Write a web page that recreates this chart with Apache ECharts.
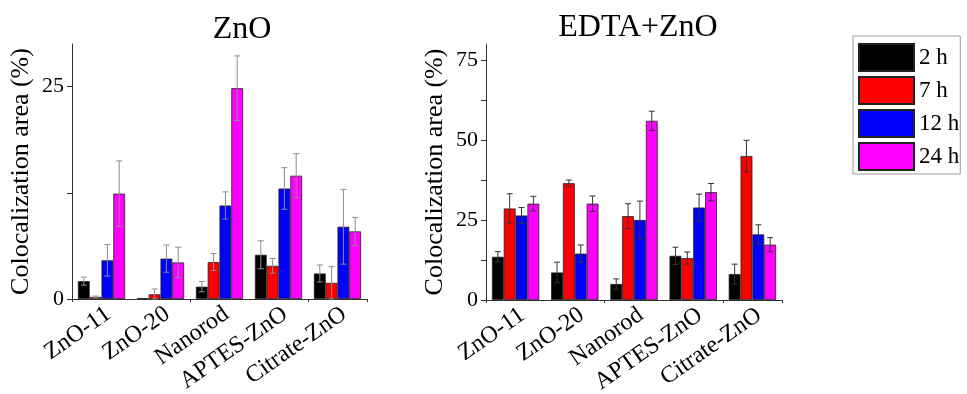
<!DOCTYPE html>
<html>
<head>
<meta charset="utf-8">
<script src="https://cdn.jsdelivr.net/npm/echarts@6.0.0/dist/echarts.min.js"></script>
<style>
html,body{margin:0;padding:0;background:#fff;}
#chart{width:967px;height:394px;}
</style>
</head>
<body>
<div id="chart"></div>
<script>
// ---- data ----
const categories = ['ZnO-11', 'ZnO-20', 'Nanorod', 'APTES-ZnO', 'Citrate-ZnO'];
const timeLabels = ['2 h', '7 h', '12 h', '24 h'];
const panelTitles = ['ZnO', 'EDTA+ZnO'];
const yAxisTitle = 'Colocalization area (%)';

// ZnO panel (means, errors)
const zno2h  = [2.1, 0.1, 1.45, 5.2, 3.0];
const zno7h  = [0.25, 0.55, 4.35, 3.9, 1.9];
const zno12h = [4.55, 4.75, 11.0, 13.0, 8.5];
const zno24h = [12.4, 4.3, 24.8, 14.5, 7.95];
const znoErr2h  = [0.47, 0, 0.6, 1.65, 1.0];
const znoErr7h  = [0.1, 0.63, 1.0, 0.87, 1.9];
const znoErr12h = [1.85, 1.6, 1.6, 2.45, 4.4];
const znoErr24h = [3.85, 1.8, 3.8, 2.6, 1.65];

// EDTA+ZnO panel (means, errors)
const edta2h  = [13.5, 8.6, 5.0, 13.8, 8.1];
const edta7h  = [28.6, 36.5, 26.2, 13.1, 45.0];
const edta12h = [26.4, 14.5, 25.0, 28.9, 20.5];
const edta24h = [30.1, 30.1, 56.0, 33.7, 17.3];
const edtaErr2h  = [1.6, 3.2, 1.6, 2.7, 3.1];
const edtaErr7h  = [4.6, 1.0, 3.9, 1.9, 4.9];
const edtaErr12h = [2.5, 2.7, 5.9, 4.2, 3.0];
const edtaErr24h = [2.3, 2.4, 3.0, 2.7, 2.2];

// axis ticks
const znoMax = 30;
const znoTicks = [0, 12.5, 25];
const znoTickLabels = [0, 25];
const edtaMax = 80;
const edtaTicks = [0, 12.5, 25, 37.5, 50, 62.5, 75];
const edtaTickLabels = [0, 25, 50, 75];

// ---- style ----
const FONT = '"Liberation Serif", "Times New Roman", serif';
const colors = ['#000000', '#ff0000', '#0000ff', '#ff00ff'];
const barFrac = 0.2;

const panels = [
  {means: [zno2h, zno7h, zno12h, zno24h], errs: [znoErr2h, znoErr7h, znoErr12h, znoErr24h],
   max: znoMax, ticks: znoTicks, labels: znoTickLabels, errColor: '#8c8c8c'},
  {means: [edta2h, edta7h, edta12h, edta24h], errs: [edtaErr2h, edtaErr7h, edtaErr12h, edtaErr24h],
   max: edtaMax, ticks: edtaTicks, labels: edtaTickLabels, errColor: '#333333'}
];

const grids = [
  {left: 72, top: 44, width: 295, height: 255, outerBoundsMode: 'none', containLabel: false},
  {left: 486, top: 44, width: 296, height: 256, outerBoundsMode: 'none', containLabel: false}
];

const xAxes = [];
const yAxes = [];
const series = [];

panels.forEach((p, g) => {
  xAxes.push({
    type: 'category', gridIndex: g, data: categories, position: 'bottom',
    axisLine: {lineStyle: {color: '#333', width: 1}},
    axisTick: {alignWithLabel: true, length: 6, lineStyle: {color: '#333'}},
    axisLabel: {rotate: 35, interval: 0, fontSize: 24, color: '#000', fontFamily: FONT,
                margin: 3, verticalAlign: 'top'},
    splitLine: {show: false}
  });
  xAxes.push({
    type: 'category', gridIndex: g, data: categories, position: 'bottom',
    axisLine: {show: false},
    axisTick: {show: true, length: 3, lineStyle: {color: '#333'}},
    axisLabel: {show: false}, splitLine: {show: false}
  });
  yAxes.push({
    type: 'value', gridIndex: g, min: 0, max: p.max,
    axisLine: {show: true, lineStyle: {color: '#333', width: 1}},
    axisTick: {show: true, length: 5, customValues: p.ticks, lineStyle: {color: '#333'}},
    axisLabel: {customValues: p.labels, fontSize: 22, color: '#000', fontFamily: FONT, margin: 8},
    splitLine: {show: false},
    name: yAxisTitle, nameLocation: 'middle', nameGap: 38,
    nameTextStyle: {fontSize: 26, color: '#000', fontFamily: FONT}
  });
  p.means.forEach((vals, i) => {
    series.push({
      type: 'bar', name: timeLabels[i], xAxisIndex: 2 * g, yAxisIndex: g,
      data: vals, barWidth: (barFrac * 100) + '%', barGap: '0%',
      itemStyle: {color: colors[i], borderColor: '#222', borderWidth: 0.8},
      silent: true
    });
  });
  p.means.forEach((vals, i) => {
    const errs = p.errs[i];
    series.push({
      type: 'custom', name: 'err-' + g + '-' + i, xAxisIndex: 2 * g, yAxisIndex: g, z: 10,
      silent: true,
      data: vals.map((m, k) => [k, m, errs[k]]),
      encode: {x: 0, y: 1},
      renderItem: function (params, api) {
        const c = api.value(0), m = api.value(1), e = api.value(2);
        if (!e) return null;
        const band = api.size([1, 0])[0];
        const dx = (i - 1.5) * band * barFrac;
        const p1 = api.coord([c, m + e]);
        const p2 = api.coord([c, Math.max(0, m - e)]);
        const x = p1[0] + dx;
        const cw = 3;
        const st = {stroke: p.errColor, lineWidth: 1};
        return {type: 'group', children: [
          {type: 'line', shape: {x1: x, y1: p1[1], x2: x, y2: p2[1]}, style: st},
          {type: 'line', shape: {x1: x - cw, y1: p1[1], x2: x + cw, y2: p1[1]}, style: st},
          {type: 'line', shape: {x1: x - cw, y1: p2[1], x2: x + cw, y2: p2[1]}, style: st}
        ]};
      }
    });
  });
});

const option = {
  animation: false,
  backgroundColor: '#fff',
  title: [
    {text: panelTitles[0], left: 237, top: 9, textAlign: 'center',
     textStyle: {fontSize: 32, fontWeight: 'normal', color: '#000', fontFamily: FONT}},
    {text: panelTitles[1], left: 633, top: 7, textAlign: 'center',
     textStyle: {fontSize: 32, fontWeight: 'normal', color: '#000', fontFamily: FONT}}
  ],
  legend: {
    orient: 'vertical', left: 853, top: 36, data: timeLabels,
    icon: 'rect', itemWidth: 55, itemHeight: 27, itemGap: 4,
    padding: [7, 1, 3, 5], borderColor: '#999', borderWidth: 1,
    textStyle: {fontSize: 23, color: '#000', fontFamily: FONT},
    selectedMode: false
  },
  grid: grids,
  xAxis: xAxes,
  yAxis: yAxes,
  series: series
};

const chart = echarts.init(document.getElementById('chart'), null, {renderer: 'canvas'});
chart.setOption(option);
</script>
</body>
</html>
